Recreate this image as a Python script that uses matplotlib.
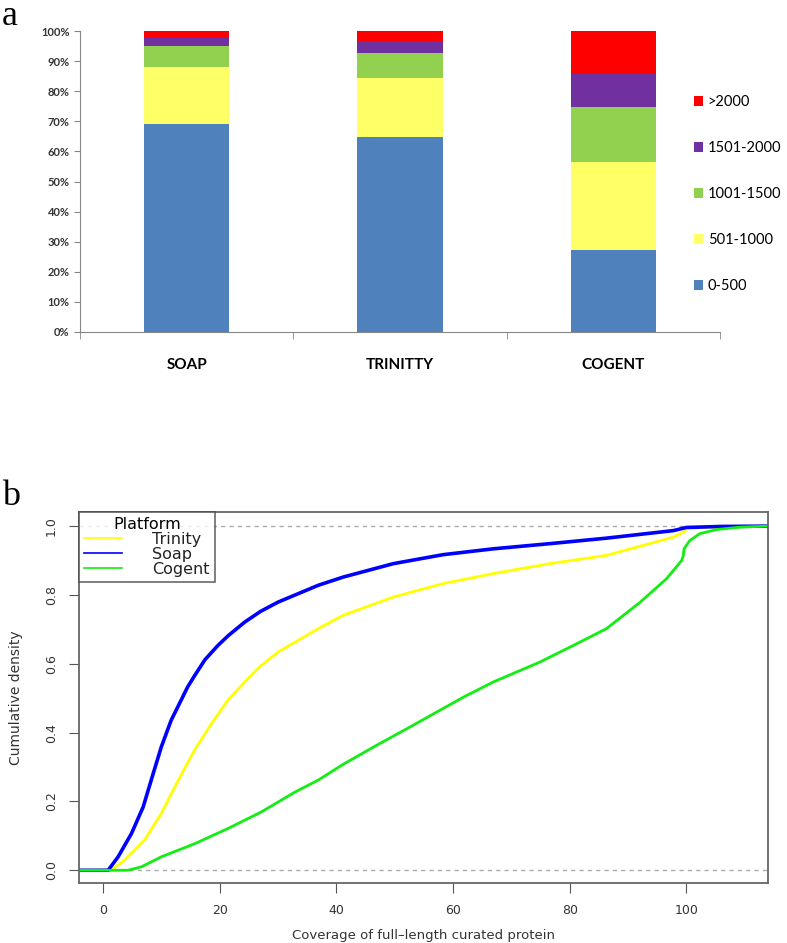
import numpy as np
import matplotlib
matplotlib.use('Agg')
import matplotlib.pyplot as plt
from matplotlib.ticker import PercentFormatter

# Панель a: частки довжин (%)
platforms = ['SOAP', 'TRINITTY', 'COGENT']
length_bins = ['0-500', '501-1000', '1001-1500', '1501-2000', '>2000']
share_0_500 = [69.1, 64.7, 27.2]
share_501_1000 = [19.1, 19.6, 29.4]
share_1001_1500 = [6.9, 8.4, 18.1]
share_1501_2000 = [2.6, 4.0, 11.1]
share_2000_plus = [2.3, 3.3, 14.2]
bar_colors = ['#4F81BD', '#FFFF66', '#92D050', '#7030A0', '#FF0000']

# Панель b: кумулятивна щільність покриття
trinity_x = [-4.1, 1.4, 3.7, 7.1, 10, 12.9, 15.7, 18.6, 21.4, 24.3, 27, 30, 36.9, 41.2,
             49.8, 58.3, 66.9, 76.6, 86.3, 97.8, 99.5, 100.2, 104.8, 114]
trinity_y = [0, 0, 0.029, 0.087, 0.165, 0.261, 0.349, 0.426, 0.494, 0.547, 0.593, 0.634,
             0.702, 0.741, 0.794, 0.833, 0.862, 0.891, 0.915, 0.968, 0.983, 0.994, 0.997, 1.0]
soap_x = [-4.1, 0.9, 2.6, 4.9, 6.9, 8.6, 10, 11.7, 13.4, 14.5, 15.7, 17.5, 19.7, 21.5,
          24.3, 27, 30, 36.9, 41.2, 49.8, 58.3, 66.9, 76.6, 86.3, 97.8, 100, 106, 114]
soap_y = [0, 0, 0.039, 0.107, 0.184, 0.28, 0.358, 0.436, 0.494, 0.532, 0.565, 0.612,
          0.653, 0.682, 0.721, 0.752, 0.779, 0.828, 0.852, 0.891, 0.917, 0.934, 0.949,
          0.965, 0.987, 0.996, 0.999, 1.0]
cogent_x = [-4.1, 4.3, 6.6, 10, 15.7, 21.4, 27.1, 32.9, 36.9, 41.2, 46.9, 52.6, 58.3,
            61.8, 66.9, 74.9, 80.6, 86.3, 92.1, 96.6, 99.2, 99.5, 99.6, 100.6, 102.3,
            105.2, 109.2, 114]
cogent_y = [0, 0, 0.01, 0.039, 0.077, 0.121, 0.169, 0.227, 0.262, 0.308, 0.363, 0.416,
            0.47, 0.503, 0.547, 0.605, 0.653, 0.702, 0.779, 0.847, 0.9, 0.915, 0.934,
            0.958, 0.978, 0.99, 0.997, 1.0]

W, H = 787, 943
fig = plt.figure(figsize=(W / 100, H / 100), dpi=100)

# ---- a ----
ax1 = fig.add_axes([80 / W, 1 - 332 / H, 640 / W, 301 / H])
x = np.arange(len(platforms))
bottom = np.zeros(len(platforms))
series = [share_0_500, share_501_1000, share_1001_1500, share_1501_2000, share_2000_plus]
for vals, lab, col in zip(series, length_bins, bar_colors):
    ax1.bar(x, vals, bottom=bottom, width=0.4, color=col, label=lab)
    bottom += np.array(vals)

ax1.set_xlim(-0.5, 2.5)
ax1.set_ylim(0, 100)
ax1.set_yticks(np.arange(0, 101, 10))
ax1.yaxis.set_major_formatter(PercentFormatter(decimals=0))
ax1.set_xticks(x)
ax1.set_xticklabels(platforms, fontfamily='Lato', fontweight='bold', fontsize=11)
ax1.set_xticks([-0.5, 0.5, 1.5, 2.5], minor=True)
ax1.tick_params(axis='x', which='major', length=0, pad=19)
ax1.tick_params(axis='x', which='minor', length=5, color='#868686')
ax1.tick_params(axis='y', length=4, color='#868686', labelsize=8, labelcolor='#333333')
for t in ax1.get_yticklabels():
    t.set_fontfamily('Lato')
    t.set_fontweight('bold')
for s in ['top', 'right']:
    ax1.spines[s].set_visible(False)
for s in ['left', 'bottom']:
    ax1.spines[s].set_color('#868686')

h, l = ax1.get_legend_handles_labels()
fig.legend(h[::-1], l[::-1], loc='upper left', bbox_to_anchor=(694 / W, 1 - 95 / H),
           frameon=False, prop={'family': 'Lato', 'size': 10.5}, handlelength=0.65,
           handleheight=0.65, handletextpad=0.3, labelspacing=2.2, borderpad=0,
           borderaxespad=0)

fig.text(2 / W, 1 - 0 / H, 'a', fontsize=26, family='Liberation Serif', va='top')

# ---- b ----
ax2 = fig.add_axes([79 / W, 1 - 883 / H, 689 / W, 371 / H])
ax2.axhline(0, color='#aaaaaa', lw=1, ls=(0, (3, 3)))
ax2.axhline(1, color='#aaaaaa', lw=1, ls=(0, (3, 3)))
ax2.plot(trinity_x, trinity_y, color='#FFFF00', lw=2, label='Trinity')
ax2.plot(soap_x, soap_y, color='#0000FF', lw=2.6, label='Soap')
ax2.plot(cogent_x, cogent_y, color='#11EE11', lw=2, label='Cogent')
ax2.set_xlim(-4.1, 114)
ax2.set_ylim(-0.037, 1.041)
ax2.set_xticks(np.arange(0, 101, 20))
ax2.set_yticks(np.arange(0, 1.01, 0.2))
ax2.set_yticklabels(['0.0', '0.2', '0.4', '0.6', '0.8', '1.0'], rotation=90, va='center')
ax2.tick_params(length=7, color='#555555', labelsize=9, labelcolor='#333333', pad=8)
for s in ax2.spines.values():
    s.set_color('#666666')
    s.set_linewidth(1.3)
ax2.set_xlabel('Coverage of full\u2013length curated protein', fontsize=9.5,
               color='#333333', labelpad=9)
ax2.set_ylabel('Cumulative density', fontsize=10, color='#333333', labelpad=16)

leg = ax2.legend(title='Platform', loc='upper left', borderaxespad=0, fancybox=False,
                 edgecolor='#444444', fontsize=11.5, title_fontsize=11.5, handlelength=2.4,
                 labelspacing=0.0, handletextpad=1.9, borderpad=0.3)
leg.get_frame().set_linewidth(1.2)
for ln in leg.get_lines():
    ln.set_linewidth(1.2)
for t in leg.get_texts():
    t.set_color('#222222')

fig.text(2 / W, 1 - 480 / H, 'b', fontsize=26, family='Liberation Serif', va='top')

fig.savefig('out.png', dpi=100)
